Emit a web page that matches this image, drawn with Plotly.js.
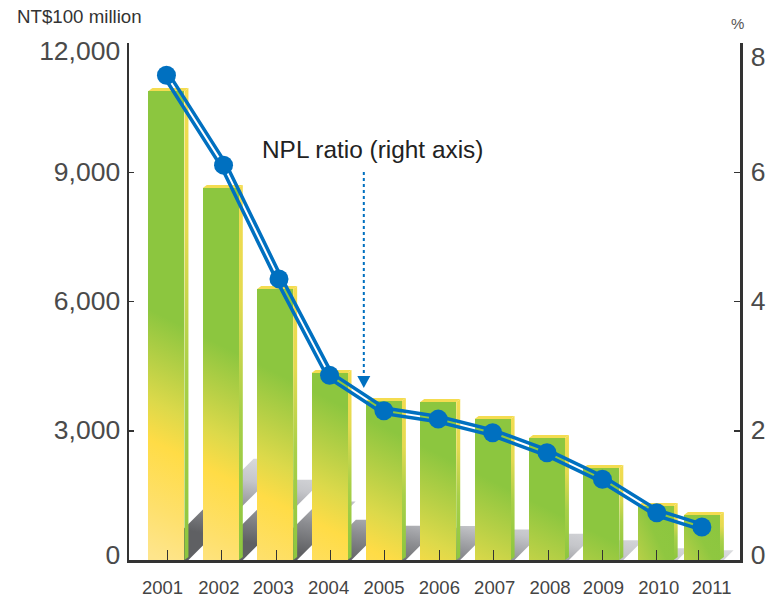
<!DOCTYPE html>
<html><head><meta charset="utf-8">
<script src="https://cdn.plot.ly/plotly-3.0.1.min.js"></script>
<style>html,body{margin:0;padding:0;background:#fff}</style>
</head><body><div id="chart" style="width:774px;height:598px"></div>
<script>
// data
const years = ['2001','2002','2003','2004','2005','2006','2007','2008','2009','2010','2011'];
const nplAmount = [10886,8634,6290,4340,3690,3667,3273,2832,2135,1253,1044];
const nplRatio = [7.50,6.11,4.35,2.86,2.31,2.18,1.97,1.66,1.25,0.73,0.51];
// slot positions: the original squeezes 2011 closer to 2010
const barSlots = [2001,2002,2003,2004,2005,2006,2007,2008,2009,2010,2010.85];
const lineSlots = [2001,2002.05,2003.07,2004,2005,2006,2007,2008,2009.02,2010.02,2010.85];
const tickSlots = [2001.02,2002.02,2003.02,2004.02,2005.02,2006.02,2007.02,2008.02,2009.02,2010.02,2010.79];
const xLabelShift = [-5,-3,-3,-2,-1,0,1,2,1,2,13];
const leftTicks = [0,3000,6000,9000,12000];
const leftLabels = ['0','3,000','6,000','9,000','12,000'];
const rightTicks = [0,2,4,6,8];

// frame
const W=774,H=598,L=128.5,T=43,R=740,B=560;
const xRange=[2000.311,2011.551], yMax=12000;
const slotPx=(R-L)/(xRange[1]-xRange[0]), valPx=(B-T)/yMax;
const BLUE='#0070c0';
const barW=36/slotPx;
const dxU=p=>p/slotPx, dyU=p=>p/valPx;
const sx=px=>(px-L)/(R-L), sy=py=>(B-py)/(B-T);
const poly=pts=>'M'+pts.map(p=>p[0]+','+p[1]).join(' L')+' Z';

const shadowShapes=[],sideShapes=[],capShapes=[];
barSlots.forEach((s,i)=>{
  const v=nplAmount[i], l=s-barW/2, r=s+barW/2, h=v*0.0093;
  const x4=dxU(4), y3=dyU(3);
  shadowShapes.push({type:'path',layer:'below',xref:'x',yref:'y',line:{width:0},fillcolor:'#bbb',
    path:poly([[l+x4,0],[r+x4,0],[r+x4+dxU(h),dyU(h)],[l+x4+dxU(h),dyU(h)]])});
  sideShapes.push({type:'path',layer:'below',xref:'x',yref:'y',line:{width:0},fillcolor:'#8cc63f',
    path:poly([[r,0],[r+x4,y3],[r+x4,v+y3],[r,v]])});
  capShapes.push({type:'path',layer:'below',xref:'x',yref:'y',line:{width:0},fillcolor:'#f4dc50',
    path:poly([[l,v],[l+x4,v+y3],[r+x4,v+y3],[r,v]])});
});
const arrowShapes=[
 {type:'line',layer:'above',xref:'paper',yref:'paper',x0:sx(363.5),x1:sx(363.5),y0:sy(172),y1:sy(376),line:{color:BLUE,width:2,dash:'dot'}},
 {type:'path',layer:'above',xref:'paper',yref:'paper',fillcolor:BLUE,line:{width:0},
  path:poly([[sx(357),sy(376)],[sx(370),sy(376)],[sx(363.5),sy(388)]])}
];

const traces=[
 {type:'bar',x:barSlots,y:nplAmount,width:barW,marker:{color:'#8cc63f',line:{width:0}},xaxis:'x',yaxis:'y',hoverinfo:'skip'},
 {type:'scatter',mode:'lines+markers',x:lineSlots,y:nplRatio,xaxis:'x',yaxis:'y2',cliponaxis:false,
  line:{color:BLUE,width:9},marker:{color:BLUE,size:19,line:{width:0}},hoverinfo:'skip'}
];
const tickCol='#333';
const layout={
 width:W,height:H,autosize:false,showlegend:false,paper_bgcolor:'#fff',plot_bgcolor:'rgba(0,0,0,0)',
 margin:{l:L,r:W-R,t:T,b:H-B,pad:0},bargap:0,
 font:{family:'"Liberation Sans",Arial,sans-serif',color:'#444'},
 xaxis:{range:xRange,tickmode:'array',tickvals:tickSlots,ticktext:years,ticks:'inside',ticklen:10,tickwidth:1,tickcolor:tickCol,
   showline:true,linecolor:tickCol,linewidth:2.5,showgrid:false,zeroline:false,tickfont:{size:18.5,color:'#444'},tickangle:0},
 yaxis:{range:[0,yMax],tickmode:'array',tickvals:leftTicks,ticktext:leftLabels,ticks:'inside',ticklen:5,tickwidth:1.5,tickcolor:tickCol,
   showline:true,linecolor:tickCol,linewidth:2.5,showgrid:false,zeroline:false,tickfont:{size:26.5,color:'#4a4a4a'}},
 yaxis2:{range:[0,8],overlaying:'y',side:'right',tickmode:'array',tickvals:rightTicks,ticks:'inside',ticklen:6,tickwidth:1.5,tickcolor:tickCol,
   showline:true,linecolor:tickCol,linewidth:2.5,showgrid:false,zeroline:false,tickfont:{size:26.5,color:'#4a4a4a'}},
 shapes:[...shadowShapes,...sideShapes,...capShapes,...arrowShapes],
 annotations:[
  {text:'NT$100 million',xref:'paper',yref:'paper',x:sx(14.5),y:sy(17),xanchor:'left',yanchor:'middle',showarrow:false,font:{size:18.7,color:'#333'}},
  {text:'%',xref:'paper',yref:'paper',x:sx(737),y:sy(24),xanchor:'center',yanchor:'middle',showarrow:false,font:{size:15,color:'#555'}},
  {text:'NPL ratio (right axis)',xref:'paper',yref:'paper',x:sx(372),y:sy(150),xanchor:'center',yanchor:'middle',showarrow:false,font:{size:24.4,color:'#222'}}
 ]
};
Plotly.newPlot('chart',traces,layout,{displayModeBar:false,staticPlot:true}).then(()=>{
  const NS='http://www.w3.org/2000/svg';
  const svg=document.querySelector('#chart .main-svg');
  let defs=svg.querySelector('defs');
  const mk=(n,a,p)=>{const e=document.createElementNS(NS,n);for(const k in a)e.setAttribute(k,a[k]);if(p)p.appendChild(e);return e;};
  // gradient running along s = y - k*x (page px), for elements drawn inside the plot group
  function grad(id,k,stops){
    const n=1+k*k, s0=stops[0][0], s1=stops[stops.length-1][0];
    const g=mk('linearGradient',{id,gradientUnits:'userSpaceOnUse',
      x1:-k*s0/n,y1:s0/n,x2:-k*s1/n,y2:s1/n,gradientTransform:`translate(${-L},${-T})`},defs);
    stops.forEach(([s,c])=>mk('stop',{offset:(s-s0)/(s1-s0),'stop-color':c},g));
  }
  grad('gFront',0.5,[[235,'#8cc63f'],[285,'#b8d046'],[325,'#dcd94a'],[365,'#ffdc46'],[430,'#fee06c'],[480,'#fee58c']]);
  grad('gShadow',0.2,[[380,'#e8e9ea'],[420,'#dcdde0'],[448,'#c5c6ca'],[479,'#8c8d91'],[510,'#5f6063']]);
  const gs=mk('linearGradient',{id:'gSide',x1:0,y1:0,x2:0,y2:1},defs);
  [[0,'#f4dc50'],[0.3,'#e4da50'],[0.6,'#a8d048'],[1,'#8cc63f']].forEach(([o,c])=>mk('stop',{offset:o,'stop-color':c},gs));
  const gl=mk('linearGradient',{id:'gFrontLow',x1:1,y1:0.3,x2:0,y2:1},defs);
  [[0,'#8cc63f'],[0.45,'#8fc740'],[1,'#b8d048']].forEach(([o,c])=>mk('stop',{offset:o,'stop-color':c},gl));

  const fronts=[...document.querySelectorAll('.bars .point path')];
  fronts.forEach((p,i)=>p.style.fill=i>=fronts.length-2?'url(#gFrontLow)':'url(#gFront)');
  document.querySelectorAll('.shapelayer path[data-index]').forEach(p=>{
    const i=+p.getAttribute('data-index'), n=years.length;
    if(i<n) p.style.fill='url(#gShadow)';
    else if(i<2*n) p.style.fill='url(#gSide)';
  });
  // double line with a see-through core
  const line=document.querySelector('.scatterlayer .js-line');
  if(line){
    const d=line.getAttribute('d');
    const m=mk('mask',{id:'coreMask',maskUnits:'userSpaceOnUse',x:-300,y:-300,width:1400,height:1200},defs);
    mk('path',{d,fill:'none',stroke:'#fff','stroke-width':12,'stroke-linejoin':'round'},m);
    mk('path',{d,fill:'none',stroke:'#000','stroke-width':2,'stroke-linejoin':'round'},m);
    line.setAttribute('mask','url(#coreMask)');
  }
  // tick labels sit a little off their ticks in the original
  document.querySelectorAll('.xtick text').forEach((t,i)=>{
    t.setAttribute('x',+t.getAttribute('x')+xLabelShift[i]);
    t.setAttribute('y',+t.getAttribute('y')+9);
  });
  const shift=(sel,dx,top)=>document.querySelectorAll(sel).forEach(t=>{
    const s=t.textContent;
    const dy=(s==='12,000'||s==='8')?top:(s==='0'?-5:-1);
    t.setAttribute('y',+t.getAttribute('y')+dy);
    t.setAttribute('x',+t.getAttribute('x')+dx);
  });
  shift('.ytick text',-1,8);shift('.y2tick text',3,14);
});
</script></body></html>
